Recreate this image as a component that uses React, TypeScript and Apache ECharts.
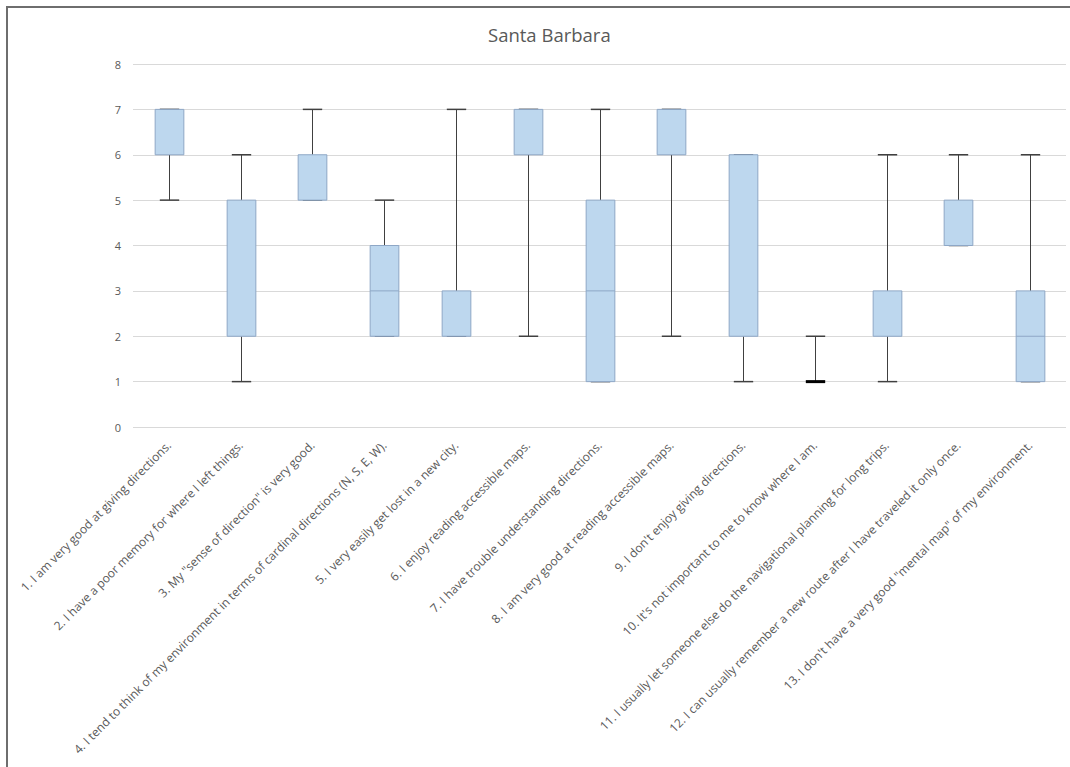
import React, { useEffect, useRef } from "react";
import * as echarts from "echarts";

const categories = [
  "1. I am very good at giving directions.",
  "2. I have a poor memory for where I left things.",
  "3. My \"sense of direction\" is very good.",
  "4. I tend to think of my environment in terms of cardinal directions (N, S, E, W).",
  "5. I very easily get lost in a new city.",
  "6. I enjoy reading accessible maps.",
  "7. I have trouble understanding directions.",
  "8. I am very good at reading accessible maps.",
  "9. I don't enjoy giving directions.",
  "10. It's not important to me to know where I am.",
  "11. I usually let someone else do the navigational planning for long trips.",
  "12. I can usually remember a new route after I have traveled it only once.",
  "13. I don't have a very good \"mental map\" of my environment.",
];

const minValues = [5, 1, 5, 2, 2, 2, 1, 2, 1, 1, 1, 4, 1];
const q1Values = [6, 2, 5, 2, 2, 6, 1, 6, 2, 1, 2, 4, 1];
const medianValues = [6, 2, 5, 3, 2, 6, 3, 6, 2, 1, 2, 4, 2];
const q3Values = [7, 5, 6, 4, 3, 7, 5, 7, 6, 1, 3, 5, 3];
const maxValues = [7, 6, 7, 5, 7, 7, 7, 7, 6, 2, 6, 6, 6];

const yTicks = [0, 1, 2, 3, 4, 5, 6, 7, 8];

export default function App() {
  const ref = useRef<HTMLDivElement>(null);
  useEffect(() => {
    if (!ref.current) return;
    const chart = echarts.init(ref.current, null, { renderer: "svg" });
    const data = categories.map((_, i) => [
      i,
      minValues[i],
      q1Values[i],
      medianValues[i],
      q3Values[i],
      maxValues[i],
    ]);
    const whiskerColor = "#404040";
    const boxFill = "#BDD7EE";
    const boxStroke = "#8EA7C6";
    chart.setOption({
      animation: false,
      title: {
        text: "Santa Barbara",
        left: 483,
        top: 20,
        textStyle: {
          fontFamily: "Open Sans",
          fontSize: 18.5,
          fontWeight: "normal",
          color: "#595959",
        },
      },
      grid: { left: 133, right: 4, top: 64, bottom: 340 },
      xAxis: {
        type: "category",
        data: categories,
        axisLine: { show: false },
        axisTick: { show: false },
        axisLabel: {
          rotate: 45,
          interval: 0,
          margin: 16,
          fontFamily: "Open Sans",
          fontSize: 12,
          color: "#595959",
        },
      },
      yAxis: {
        type: "value",
        min: yTicks[0],
        max: yTicks[yTicks.length - 1],
        interval: 1,
        axisLine: { show: false },
        axisTick: { show: false },
        axisLabel: {
          margin: 12,
          fontFamily: "Open Sans",
          fontSize: 11,
          color: "#595959",
        },
        splitLine: { lineStyle: { color: "#D9D9D9", width: 1 } },
      },
      series: [
        {
          type: "custom",
          data,
          encode: { x: 0, y: [1, 2, 3, 4, 5] },
          renderItem: (params: any, api: any) => {
            const idx = api.value(0);
            const vMin = api.value(1);
            const vQ1 = api.value(2);
            const vMed = api.value(3);
            const vQ3 = api.value(4);
            const vMax = api.value(5);
            const band = api.size([1, 0])[0];
            const boxW = band * 0.4;
            const capW = band * 0.27;
            const pMin = api.coord([idx, vMin]);
            const pQ1 = api.coord([idx, vQ1]);
            const pMed = api.coord([idx, vMed]);
            const pQ3 = api.coord([idx, vQ3]);
            const pMax = api.coord([idx, vMax]);
            const cx = Math.round(pMin[0]) + 0.5;
            const children: any[] = [];
            const collapsed = vQ1 === vQ3;
            children.push({
              type: "line",
              shape: { x1: cx, y1: pQ3[1], x2: cx, y2: pMax[1] },
              style: { stroke: whiskerColor, lineWidth: 1 },
            });
            children.push({
              type: "line",
              shape: { x1: cx, y1: pQ1[1], x2: cx, y2: pMin[1] },
              style: { stroke: whiskerColor, lineWidth: 1 },
            });
            children.push({
              type: "line",
              shape: { x1: cx - capW / 2, y1: pMax[1], x2: cx + capW / 2, y2: pMax[1] },
              style: { stroke: whiskerColor, lineWidth: 1.5 },
            });
            children.push({
              type: "line",
              shape: { x1: cx - capW / 2, y1: pMin[1], x2: cx + capW / 2, y2: pMin[1] },
              style: { stroke: collapsed ? "#000" : whiskerColor, lineWidth: collapsed ? 3 : 1.5 },
            });
            if (!collapsed) {
              children.push({
                type: "rect",
                shape: {
                  x: cx - boxW / 2,
                  y: pQ3[1],
                  width: boxW,
                  height: pQ1[1] - pQ3[1],
                },
                style: { fill: boxFill, stroke: boxStroke, lineWidth: 1 },
              });
              if (vMed > vQ1 && vMed < vQ3) {
                children.push({
                  type: "line",
                  shape: { x1: cx - boxW / 2, y1: pMed[1], x2: cx + boxW / 2, y2: pMed[1] },
                  style: { stroke: boxStroke, lineWidth: 1 },
                });
              }
            }
            return { type: "group", children };
          },
        },
      ],
    });
    return () => chart.dispose();
  }, []);
  return (
    <div
      style={{
        position: "fixed",
        left: 0,
        top: 0,
        width: 1070,
        height: 767,
        overflow: "hidden",
        background: "#fff",
      }}
    >
      <div
        style={{
          position: "absolute",
          left: 6,
          top: 6,
          width: 1200,
          height: 900,
          border: "2px solid #6E6E6E",
          boxSizing: "border-box",
        }}
      />
      <div ref={ref} style={{ position: "absolute", left: 0, top: 0, width: 1070, height: 767 }} />
    </div>
  );
}
